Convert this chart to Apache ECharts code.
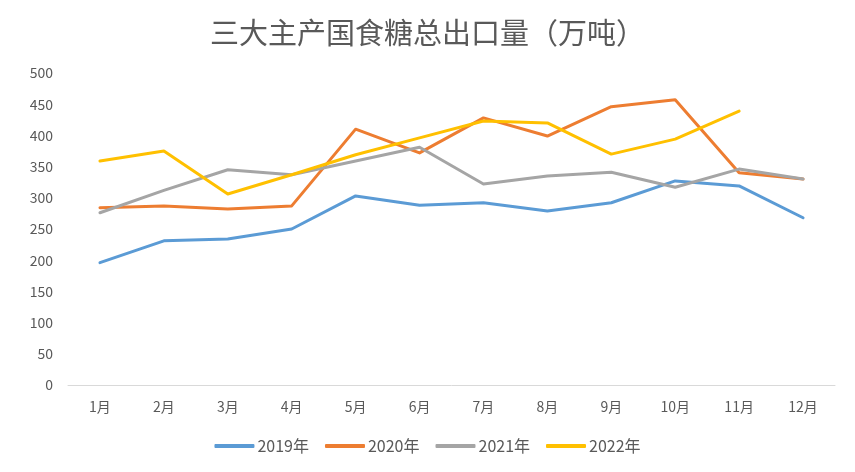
<!DOCTYPE html>
<html>
<head>
<meta charset="utf-8">
<script src="https://cdn.jsdelivr.net/npm/echarts@6/dist/echarts.min.js"></script>
<style>
  html, body { margin: 0; padding: 0; background: #fff; }
  #chart { width: 855px; height: 472px; }
</style>
</head>
<body>
<div id="chart"></div>
<script>
// 月份
const months = ['1月', '2月', '3月', '4月', '5月', '6月', '7月', '8月', '9月', '10月', '11月', '12月'];
// 各年出口量（万吨）
const y2019 = [196, 231, 234, 250, 303, 288, 292, 279, 292, 327, 319, 268];
const y2020 = [284, 287, 282, 287, 410, 372, 428, 399, 446, 457, 340, 330];
const y2021 = [276, 312, 345, 337, 359, 381, 322, 335, 341, 317, 346, 330];
const y2022 = [359, 375, 306, 337, 369, 396, 423, 420, 370, 394, 439, null];

const font = '"Microsoft YaHei", "Noto Sans CJK SC", sans-serif';

function line(name, data, color) {
  return {
    name: name,
    type: 'line',
    data: data,
    symbol: 'none',
    lineStyle: { width: 3, color: color, cap: 'round', join: 'round' },
    itemStyle: { color: color },
    connectNulls: false
  };
}

const chart = echarts.init(document.getElementById('chart'));
chart.setOption({
  animation: false,
  title: {
    text: '三大主产国食糖总出口量（万吨）',
    left: 'center',
    top: 13,
    textStyle: { fontFamily: font, fontSize: 29, fontWeight: 'normal', color: '#595959' }
  },
  grid: { left: 68, right: 20, top: 73, bottom: 87 },
  legend: {
    bottom: 13,
    itemWidth: 40,
    itemHeight: 4,
    itemGap: 16,
    icon: 'roundRect',
    textStyle: { fontFamily: font, fontSize: 16, color: '#595959', padding: [0, 0, 0, -2] },
    data: ['2019年', '2020年', '2021年', '2022年']
  },
  xAxis: {
    type: 'category',
    data: months,
    boundaryGap: true,
    axisLine: { lineStyle: { color: '#d9d9d9', width: 1 } },
    axisTick: { show: false },
    axisLabel: { fontFamily: font, fontSize: 14, color: '#595959', margin: 15 }
  },
  yAxis: {
    type: 'value',
    min: 0,
    max: 500,
    interval: 50,
    axisLine: { show: false },
    axisTick: { show: false },
    splitLine: { show: false },
    axisLabel: { fontFamily: font, fontSize: 14, color: '#595959', margin: 15 }
  },
  series: [
    line('2019年', y2019, '#5B9BD5'),
    line('2020年', y2020, '#ED7D31'),
    line('2021年', y2021, '#A5A5A5'),
    line('2022年', y2022, '#FFC000')
  ]
});
</script>
</body>
</html>
